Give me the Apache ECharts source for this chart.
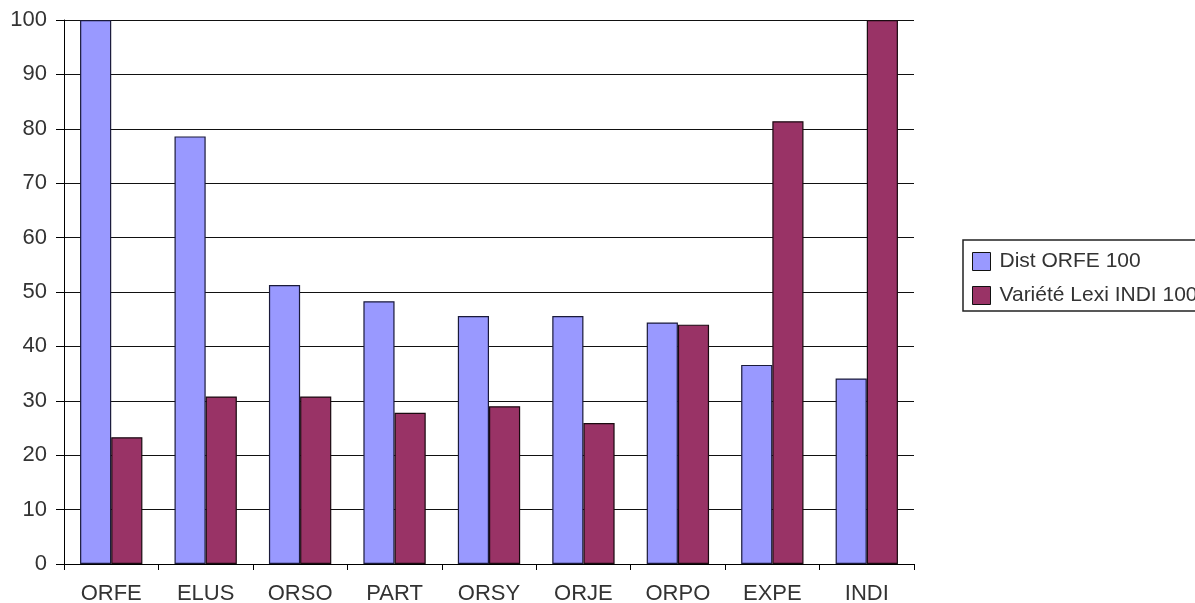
<!DOCTYPE html>
<html>
<head>
<meta charset="utf-8">
<script src="https://cdn.jsdelivr.net/npm/echarts@6/dist/echarts.min.js"></script>
<style>
html,body{margin:0;padding:0;background:#fff;}
#chart{width:1195px;height:603px;}
</style>
</head>
<body>
<div id="chart"></div>
<script>
const categories = ['ORFE','ELUS','ORSO','PART','ORSY','ORJE','ORPO','EXPE','INDI'];
const seriesNames = ['Dist ORFE 100','Variété Lexi INDI 100'];
const distOrfe = [100, 78.6, 51.3, 48.3, 45.6, 45.6, 44.4, 36.6, 34.1];
const varieteLexi = [23.3, 30.8, 30.8, 27.8, 29.0, 25.9, 44.0, 81.4, 100];
const yTicks = [0,10,20,30,40,50,60,70,80,90,100];

const chart = echarts.init(document.getElementById('chart'));
const font = 'Liberation Sans, Arial, sans-serif';
chart.setOption({
  animation: false,
  backgroundColor: '#fff',
  grid: {left: 64, right: 281, top: 20, bottom: 39, containLabel: false, outerBoundsMode: 'none'},
  graphic: [{
    type: 'rect', silent: true, z: 0,
    shape: {x: 963, y: 240, width: 320, height: 71},
    style: {fill: '#fff', stroke: '#222', lineWidth: 1.5}
  }],
  legend: {
    orient: 'vertical',
    left: 972, top: 251,
    padding: 0,
    itemWidth: 18, itemHeight: 18, itemGap: 13,
    icon: 'rect',
    z: 5,
    textStyle: {fontFamily: font, fontSize: 21, color: '#333', padding: [0,0,0,4]},
    data: seriesNames.map(n => ({name: n, itemStyle: {borderColor: '#111', borderWidth: 1}}))
  },
  xAxis: {
    type: 'category',
    data: categories,
    axisLine: {lineStyle: {color: '#000', width: 1}},
    axisTick: {show: true, length: 6, lineStyle: {color: '#000'}},
    axisLabel: {fontFamily: font, fontSize: 22, color: '#333', margin: 19},
    splitLine: {show: false}
  },
  yAxis: {
    type: 'value',
    min: yTicks[0], max: yTicks[yTicks.length-1], interval: 10,
    axisLine: {show: true, lineStyle: {color: '#000', width: 1}},
    axisTick: {show: true, length: 8, lineStyle: {color: '#000'}},
    axisLabel: {fontFamily: font, fontSize: 22, color: '#333', margin: 17},
    splitLine: {show: true, lineStyle: {color: '#111', width: 1.2}}
  },
  series: [
    {
      name: seriesNames[0], type: 'bar', data: distOrfe,
      barGap: '0%', barCategoryGap: '34%',
      itemStyle: {color: '#9999FF', borderColor: '#1a1a3a', borderWidth: 1.2}
    },
    {
      name: seriesNames[1], type: 'bar', data: varieteLexi,
      barGap: '0%', barCategoryGap: '34%',
      itemStyle: {color: '#993366', borderColor: '#1a0a10', borderWidth: 1.2}
    }
  ]
});
</script>
</body>
</html>
